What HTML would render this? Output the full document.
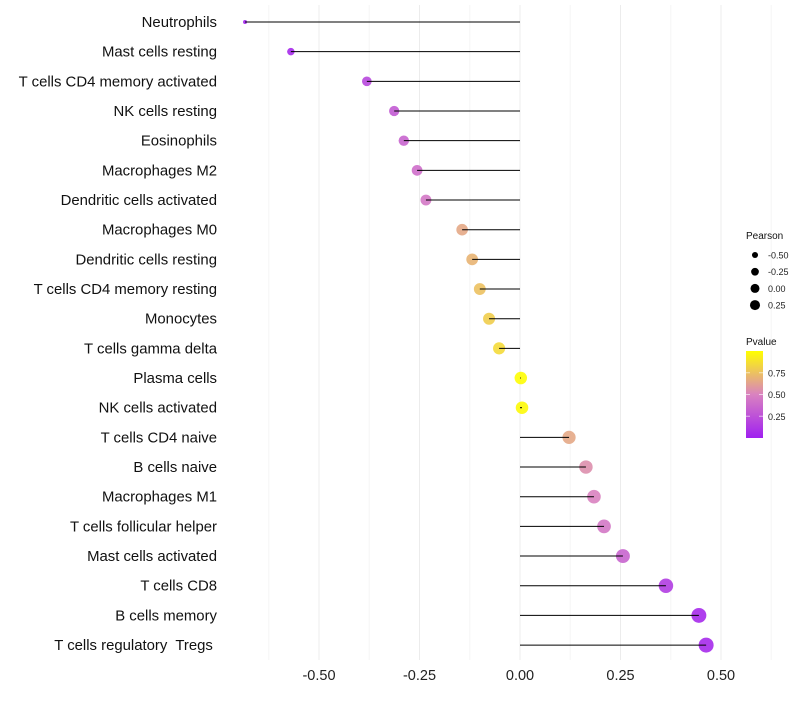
<!DOCTYPE html>
<html><head><meta charset="utf-8"><style>
body{margin:0;background:#fff;font-family:"Liberation Sans",sans-serif}
text{white-space:pre}
</style></head><body>
<svg id="c" width="800" height="700" xmlns="http://www.w3.org/2000/svg"></svg>
<script>
const categories=["Neutrophils","Mast cells resting","T cells CD4 memory activated","NK cells resting","Eosinophils","Macrophages M2","Dendritic cells activated","Macrophages M0","Dendritic cells resting","T cells CD4 memory resting","Monocytes","T cells gamma delta","Plasma cells","NK cells activated","T cells CD4 naive","B cells naive","Macrophages M1","T cells follicular helper","Mast cells activated","T cells CD8","B cells memory","T cells regulatory  Tregs "];
const pearson=[-0.684,-0.570,-0.381,-0.313,-0.289,-0.256,-0.234,-0.144,-0.119,-0.100,-0.077,-0.052,0.002,0.005,0.122,0.164,0.184,0.209,0.256,0.363,0.445,0.463];
const pvalue=[0.02,0.05,0.2,0.3,0.35,0.4,0.45,0.65,0.7,0.75,0.8,0.85,0.99,0.98,0.65,0.55,0.5,0.45,0.35,0.15,0.05,0.05];
const xTicks=[-0.5,-0.25,0,0.25,0.5];
const xTickLabels=["-0.50","-0.25","0.00","0.25","0.50"];
const legendPearson=[-0.5,-0.25,0,0.25];
const legendPearsonLabels=["-0.50","-0.25","0.00","0.25"];
const legendP=[0.25,0.5,0.75];
const legendPLabels=["0.25","0.50","0.75"];

const svg=document.getElementById('c');
const NS="http://www.w3.org/2000/svg";
const X=v=>520+v*402;
const Y=i=>22+i*29.67;
const R=v=>2+5.5*Math.sqrt(Math.max(0,(v+0.684)/1.147));
function col(p){
  const a=[160,32,240],b=[217,130,192],c=[255,255,0];
  let s,e,t;
  if(p<0.5){s=a;e=b;t=p/0.5}else{s=b;e=c;t=(p-0.5)/0.5}
  return `rgb(${s.map((v,k)=>Math.round(v+(e[k]-v)*t)).join(',')})`;
}
function mk(tag,attrs,parent){const el=document.createElementNS(NS,tag);for(const k in attrs)el.setAttribute(k,attrs[k]);(parent||svg).appendChild(el);return el;}

for(let v=-0.625;v<=0.63;v+=0.125){
  const g=mk('line',{x1:X(v),x2:X(v),y1:5,y2:660,stroke:(Math.abs((v*4)%1)<1e-6)?'#ececec':'#f5f5f5','stroke-width':1});
  
  
}
xTicks.forEach((v,i)=>{
  const t=mk('text',{x:X(v),y:680,'text-anchor':'middle','font-size':14.5,fill:'#222'});
  t.textContent=xTickLabels[i];
  
  
});
categories.forEach((c,i)=>{
  const y=Y(i);
  const lab=mk('text',{x:217,y:y+5,'text-anchor':'end','font-size':14.9,fill:'#111'});
  lab.textContent=c;
  
  
  const p=mk('circle',{cx:X(pearson[i]),cy:y,r:R(pearson[i]),fill:col(pvalue[i]),'fill-opacity':0.9});
  
  
  const l=mk('line',{x1:X(0),x2:X(pearson[i]),y1:y,y2:y,stroke:'#000','stroke-width':1});
  
  
});
let tt=mk('text',{x:746,y:239,'font-size':10,fill:'#111'});tt.textContent='Pearson';


legendPearson.forEach((v,i)=>{
  const y=255+i*16.7;
  const c=mk('circle',{cx:755,cy:y,r:R(v)*0.72,fill:'#000'});
  
  
  const t=mk('text',{x:768,y:y+3.5,'font-size':9,fill:'#222'});t.textContent=legendPearsonLabels[i];
  
  
});
tt=mk('text',{x:746,y:345,'font-size':10,fill:'#111'});tt.textContent='Pvalue';


const defs=mk('defs',{});
const gr=mk('linearGradient',{id:'pg',x1:0,y1:1,x2:0,y2:0},defs);
[0,0.25,0.5,0.75,1].forEach(p=>mk('stop',{offset:p,'stop-color':col(p)},gr));
const bar=mk('rect',{x:746,y:351,width:17,height:87,fill:'url(#pg)'});


legendP.forEach((p,i)=>{
  const y=438-p*87;
  const t=mk('text',{x:768,y:y+3.5,'font-size':9,fill:'#222'});t.textContent=legendPLabels[i];
  
  
  mk('line',{x1:746,x2:750,y1:y,y2:y,stroke:'#fff','stroke-opacity':0.6});
  mk('line',{x1:759,x2:763,y1:y,y2:y,stroke:'#fff','stroke-opacity':0.6});
});
</script>
</body></html>
